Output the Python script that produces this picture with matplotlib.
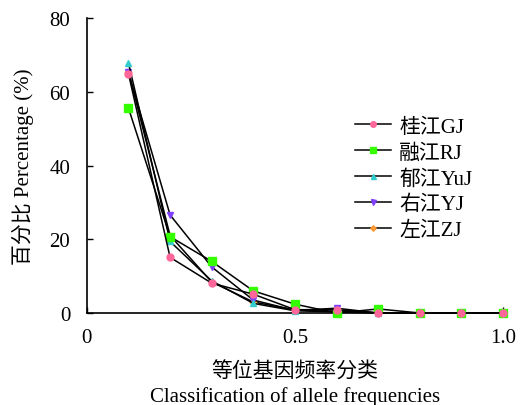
import matplotlib
matplotlib.use("Agg")
import matplotlib.pyplot as plt
from matplotlib.lines import Line2D

plt.rcParams['font.family'] = ['Liberation Serif', 'Noto Sans CJK SC']
plt.rcParams['axes.unicode_minus'] = False

# allele frequency classes
freq_class = [0.1, 0.2, 0.3, 0.4, 0.5, 0.6, 0.7, 0.8, 0.9, 1.0]

# percentage per river population
gj = [64.9, 15.1, 8.1, 5.1, 0.9, 0.9, 0.0, 0.0, 0.0, 0.0]
rj = [55.6, 20.7, 14.0, 6.0, 2.4, 0.0, 1.1, 0.0, 0.0, 0.0]
yuj = [67.9, 19.4, 8.7, 2.6, 0.6, 0.3, 0.0, 0.0, 0.0, 0.0]
yj = [65.3, 26.6, 12.5, 3.5, 0.7, 1.3, 0.0, 0.0, 0.0, 0.0]
zj = [65.5, 21.0, 8.4, 3.0, 0.8, 0.5, 0.0, 0.0, 0.0, 0.0]

labels = ["桂江GJ", "融江RJ", "郁江YuJ", "右江YJ", "左江ZJ"]
series = [gj, rj, yuj, yj, zj]
markers = ["o", "s", "^", "v", "D"]
colors = ["#ff6699", "#33ff00", "#33cccc", "#7f3fff", "#ff9933"]
msizes = [5, 6, 4.5, 4.5, 3.5]

fig = plt.figure(figsize=(5.23, 4.06), dpi=100)
ax = fig.add_axes([0.166, 0.2266, 0.796, 0.7264])

# draw in reverse so GJ ends up on top
zs = [6, 5, 4, 3, 2]
for vals, m, c, ms, z in zip(series, markers, colors, msizes, zs):
    ax.plot(freq_class, vals, color="black", lw=1.1, marker=m, ms=ms,
            markerfacecolor=c, markeredgecolor=c, zorder=z, clip_on=False)

handles = [Line2D([0], [0], color="black", lw=1.1, marker=m, ms=ms * 0.8,
                  markerfacecolor=c, markeredgecolor=c)
           for m, c, ms in zip(markers, colors, msizes)]
ax.legend(handles, labels, loc="upper left", bbox_to_anchor=(0.6, 0.728),
          frameon=False, fontsize=15, handlelength=1.7, handletextpad=0.4,
          labelspacing=0.3)

ax.set_xlim(0, 1.0)
ax.set_ylim(0, 80)
ax.set_xticks([0, 0.5, 1.0])
ax.set_xticklabels(["0", "0.5", "1.0"])
ax.set_yticks([0, 20, 40, 60, 80])
ax.tick_params(direction="in", length=4, width=1, labelsize=15)
ax.tick_params(axis="x", pad=11)
ax.tick_params(axis="y", pad=12)
ax.spines["top"].set_visible(False)
ax.spines["right"].set_visible(False)
for s in ["left", "bottom"]:
    ax.spines[s].set_linewidth(1.2)

ax.set_ylabel("百分比 Percentage (%)", fontsize=15, labelpad=11)
ax.set_xlabel("等位基因频率分类\nClassification of allele frequencies", fontsize=15,
              linespacing=1.35, labelpad=10)

fig.savefig("out.png", dpi=100)
